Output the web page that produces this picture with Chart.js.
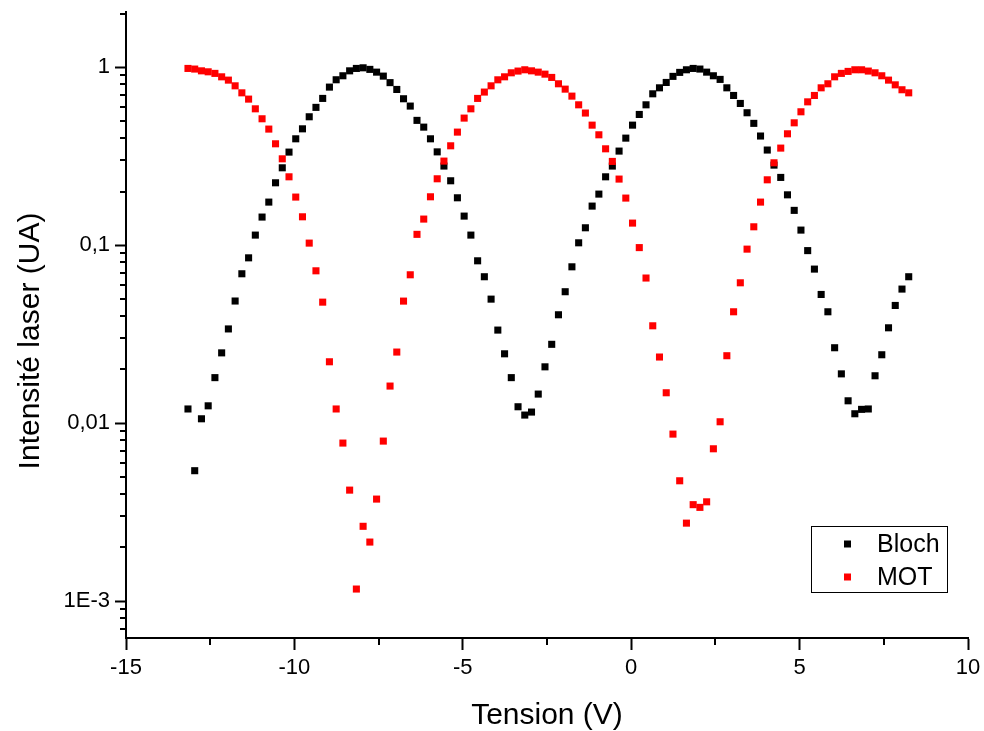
<!DOCTYPE html>
<html><head><meta charset="utf-8">
<script src="https://cdn.jsdelivr.net/npm/chart.js@4"></script>
<style>html,body{margin:0;padding:0;background:#fff}</style>
</head><body>
<canvas id="c" width="984" height="731"></canvas>
<script>
const xValues = [
-13.16,-12.96,-12.76,-12.56,-12.36,-12.16,-11.96,-11.76,-11.56,-11.36,
-11.16,-10.96,-10.76,-10.56,-10.36,-10.16,-9.96,-9.76,-9.56,-9.36,
-9.16,-8.96,-8.76,-8.56,-8.36,-8.16,-7.96,-7.76,-7.56,-7.36,
-7.16,-6.96,-6.76,-6.56,-6.36,-6.16,-5.96,-5.76,-5.56,-5.36,
-5.16,-4.96,-4.76,-4.56,-4.36,-4.16,-3.96,-3.76,-3.56,-3.36,
-3.16,-2.96,-2.76,-2.56,-2.36,-2.16,-1.96,-1.76,-1.56,-1.36,
-1.16,-0.96,-0.76,-0.56,-0.36,-0.16,0.04,0.24,0.44,0.64,
0.84,1.04,1.24,1.44,1.64,1.84,2.04,2.24,2.44,2.64,
2.84,3.04,3.24,3.44,3.64,3.84,4.04,4.24,4.44,4.64,
4.84,5.04,5.24,5.44,5.64,5.84,6.04,6.24,6.44,6.64,
6.84,7.04,7.24,7.44,7.64,7.84,8.04,8.24];

const blochValues = [
0.0120,0.0054,0.01057,0.0125,0.0180,0.0248,0.0338,0.0485,0.0690,0.0848,
0.1138,0.1437,0.1744,0.2239,0.2718,0.333,0.3955,0.450,0.526,0.594,
0.667,0.772,0.849,0.894,0.953,0.983,0.991,0.971,0.937,0.890,
0.818,0.749,0.664,0.604,0.502,0.460,0.3955,0.334,0.278,0.2298,
0.1844,0.1455,0.1138,0.0816,0.0664,0.0497,0.0333,0.0245,0.0180,0.01235,
0.01109,0.01153,0.01455,0.0207,0.0277,0.0406,0.0547,0.0755,0.1030,0.1251,
0.1656,0.1934,0.2419,0.278,0.3374,0.399,0.472,0.542,0.614,0.708,
0.765,0.820,0.887,0.934,0.966,0.983,0.975,0.937,0.894,0.853,
0.765,0.693,0.625,0.554,0.483,0.410,0.342,0.2814,0.240,0.1916,
0.1567,0.1214,0.0931,0.0733,0.0528,0.0422,0.0265,0.0189,0.01334,0.01128,
0.01194,0.0120,0.01844,0.0242,0.0343,0.0458,0.0566,0.0664];

const motValues = [
0.983,0.975,0.953,0.941,0.922,0.882,0.845,0.785,0.717,0.661,
0.583,0.5125,0.4485,0.3708,0.3053,0.2419,0.1861,0.1442,0.1026,0.0717,
0.0478,0.0221,0.0120,0.00772,0.00420,0.001168,0.00263,0.002145,0.00374,0.00792,
0.01614,0.02506,0.04845,0.0681,0.1149,0.140,0.1868,0.2358,0.2964,0.3613,
0.4313,0.517,0.583,0.667,0.724,0.785,0.8485,0.882,0.929,0.950,
0.966,0.953,0.937,0.913,0.875,0.806,0.752,0.687,0.614,0.552,
0.472,0.4166,0.3475,0.2952,0.2349,0.1837,0.1329,0.0968,0.0653,0.0352,
0.0235,0.0148,0.00867,0.00474,0.00274,0.00348,0.00336,0.00361,0.00717,0.01017,
0.0239,0.0422,0.0614,0.0949,0.1267,0.1744,0.2327,0.290,0.3507,0.422,
0.4864,0.561,0.638,0.693,0.765,0.806,0.882,0.922,0.946,0.966,
0.966,0.950,0.929,0.894,0.845,0.795,0.746,0.717];

const seriesNames = ['Bloch', 'MOT'];
const seriesColors = ['#000000', '#ff0000'];
const yTickValues = [0.001, 0.01, 0.1, 1];
const yTickLabels = ['1E-3', '0,01', '0,1', '1'];
const xTitle = 'Tension (V)';
const yTitle = 'Intensité laser (UA)';

const FONT = "'Liberation Sans', Arial, sans-serif";

const toPoints = vals => xValues.map((x, i) => ({x: x, y: vals[i]}));

const minorTicks = {
  id: 'minorTicks',
  afterDraw(chart) {
    const ctx = chart.ctx, xs = chart.scales.x, ys = chart.scales.y;
    ctx.save();
    ctx.strokeStyle = '#000';
    ctx.lineWidth = 2;
    ctx.beginPath();
    for (let d = -4; d <= 0; d++) {
      for (let m = 2; m <= 9; m++) {
        const v = m * Math.pow(10, d);
        if (v < ys.min || v > ys.max) continue;
        const p = Math.round(ys.getPixelForValue(v));
        ctx.moveTo(xs.left - 6, p);
        ctx.lineTo(xs.left, p);
      }
    }
    for (let v = xs.min + 2.5; v < xs.max; v += 5) {
      const p = Math.round(xs.getPixelForValue(v));
      ctx.moveTo(p, ys.bottom);
      ctx.lineTo(p, ys.bottom + 7);
    }
    ctx.stroke();
    // y axis title, centred like the reference
    ctx.fillStyle = '#000';
    ctx.font = '30px ' + FONT;
    ctx.textAlign = 'center';
    ctx.textBaseline = 'middle';
    ctx.translate(31, 341);
    ctx.rotate(-Math.PI / 2);
    ctx.fillText(yTitle, 0, 0);
    ctx.restore();
  }
};

const legendBox = {
  id: 'legendBox',
  afterDatasetsDraw(chart) {
    const ctx = chart.ctx, a = chart.chartArea;
    const bx = a.right - 157, by = a.bottom - 112, bw = 136, bh = 66;
    ctx.save();
    ctx.fillStyle = '#fff';
    ctx.fillRect(bx, by, bw, bh);
    ctx.strokeStyle = '#000';
    ctx.lineWidth = 1;
    ctx.strokeRect(bx + 0.5, by + 0.5, bw, bh);
    ctx.font = '25px ' + FONT;
    ctx.textBaseline = 'middle';
    ctx.textAlign = 'left';
    chart.data.datasets.forEach((ds, i) => {
      const cy = by + 18 + i * 33;
      ctx.fillStyle = ds.backgroundColor;
      ctx.fillRect(bx + 33, cy - 3.5, 7, 7);
      ctx.fillStyle = '#000';
      ctx.fillText(ds.label, bx + 66, cy + 1);
    });
    ctx.restore();
  }
};

Chart.defaults.color = '#000';
Chart.defaults.font.family = FONT;

new Chart(document.getElementById('c'), {
  type: 'scatter',
  data: {
    datasets: [
      {label: seriesNames[0], data: toPoints(blochValues), backgroundColor: seriesColors[0], borderWidth: 0, pointStyle: 'rect', pointRadius: 5, pointHoverRadius: 5, order: 1},
      {label: seriesNames[1], data: toPoints(motValues), backgroundColor: seriesColors[1], borderWidth: 0, pointStyle: 'rect', pointRadius: 5, pointHoverRadius: 5, order: 0}
    ]
  },
  options: {
    responsive: false,
    animation: false,
    devicePixelRatio: 1,
    layout: {padding: {top: 12, right: 16, left: 0, bottom: 0}},
    plugins: {legend: {display: false}, tooltip: {enabled: false}},
    scales: {
      x: {
        type: 'linear', min: -15, max: 10, bounds: 'data',
        ticks: {stepSize: 5, font: {size: 22}, padding: 5, maxRotation: 0, autoSkip: false},
        grid: {display: true, drawOnChartArea: false, drawTicks: true, tickLength: 12, tickWidth: 2, tickColor: '#000'},
        border: {display: true, color: '#000', width: 2},
        title: {display: true, text: xTitle, font: {size: 30, lineHeight: 1}, padding: {top: 0, bottom: 0}},
        afterFit: s => { s.height = 93; s.paddingLeft = 0; s.paddingRight = 0; }
      },
      y: {
        type: 'logarithmic', min: 6.2e-4, max: 2.04, bounds: 'data',
        afterBuildTicks: s => { s.ticks = yTickValues.map(v => ({value: v, major: true})); },
        ticks: {font: {size: 22}, padding: 5, autoSkip: false, callback: (v, i) => yTickLabels[i]},
        grid: {display: true, drawOnChartArea: false, drawTicks: true, tickLength: 11, tickWidth: 2, tickColor: '#000'},
        border: {display: true, color: '#000', width: 2},
        title: {display: false},
        afterFit: s => { s.width = 126; s.paddingTop = 0; s.paddingBottom = 0; }
      }
    }
  },
  plugins: [minorTicks, legendBox]
});
</script>
</body></html>
